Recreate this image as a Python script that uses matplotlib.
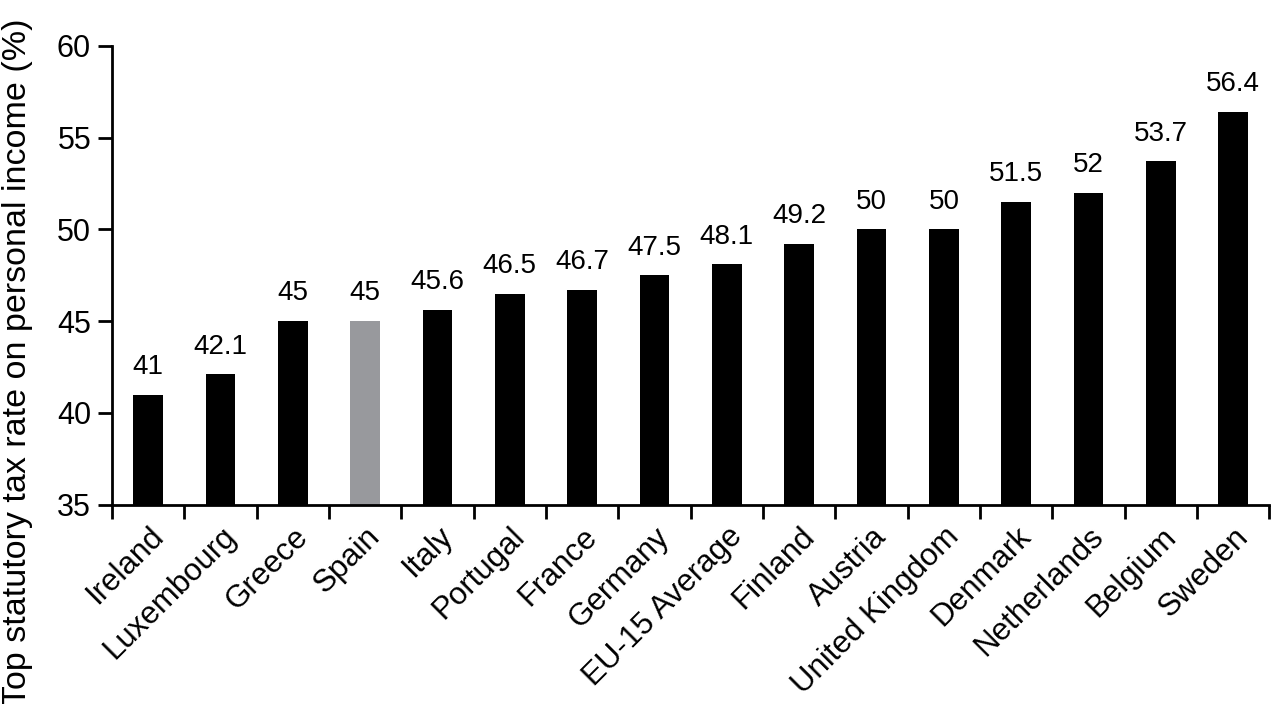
import numpy as np
import matplotlib.pyplot as plt
from matplotlib.ticker import FixedLocator

plt.rcParams['font.family'] = ['Liberation Sans', 'DejaVu Sans']

countries = ['Ireland', 'Luxembourg', 'Greece', 'Spain', 'Italy', 'Portugal',
             'France', 'Germany', 'EU-15 Average', 'Finland', 'Austria',
             'United Kingdom', 'Denmark', 'Netherlands', 'Belgium', 'Sweden']
rates = [41, 42.1, 45, 45, 45.6, 46.5, 46.7, 47.5, 48.1, 49.2, 50, 50,
         51.5, 52, 53.7, 56.4]
labels = ['41', '42.1', '45', '45', '45.6', '46.5', '46.7', '47.5', '48.1',
          '49.2', '50', '50', '51.5', '52', '53.7', '56.4']

colors = ['#98999d' if c == 'Spain' else 'black' for c in countries]

fig = plt.figure(figsize=(12.72, 7.04), dpi=100)
ax = fig.add_axes([0.088, 0.283, 0.91, 0.652])

x = np.arange(len(countries))
ax.bar(x, [r - 35 for r in rates], bottom=35, width=0.41, color=colors)
for xi, r, lab in zip(x, rates, labels):
    ax.text(xi, r + 0.8, lab, ha='center', va='bottom', fontsize=20)

ax.set_xlim(-0.5, len(countries) - 0.5)
ax.set_ylim(35, 60)
ax.set_yticks(range(35, 61, 5))
ax.set_xticks(x)
ax.set_xticklabels(countries, rotation=45, ha='right', rotation_mode='anchor',
                   fontsize=22.5)
ax.xaxis.set_minor_locator(FixedLocator(np.arange(-0.5, len(countries), 1)))
ax.tick_params(axis='x', which='major', length=0, pad=12)
ax.tick_params(axis='x', which='minor', length=10, width=2, direction='out')
ax.tick_params(axis='y', length=10, width=2, labelsize=22, pad=5)

for s in ['top', 'right']:
    ax.spines[s].set_visible(False)
for s in ['left', 'bottom']:
    ax.spines[s].set_linewidth(2)

ax.set_ylabel('Top statutory tax rate on personal income (%)', fontsize=24.5)
ax.yaxis.set_label_coords(-0.068, 0.31)

fig.savefig('out.png', dpi=100)
